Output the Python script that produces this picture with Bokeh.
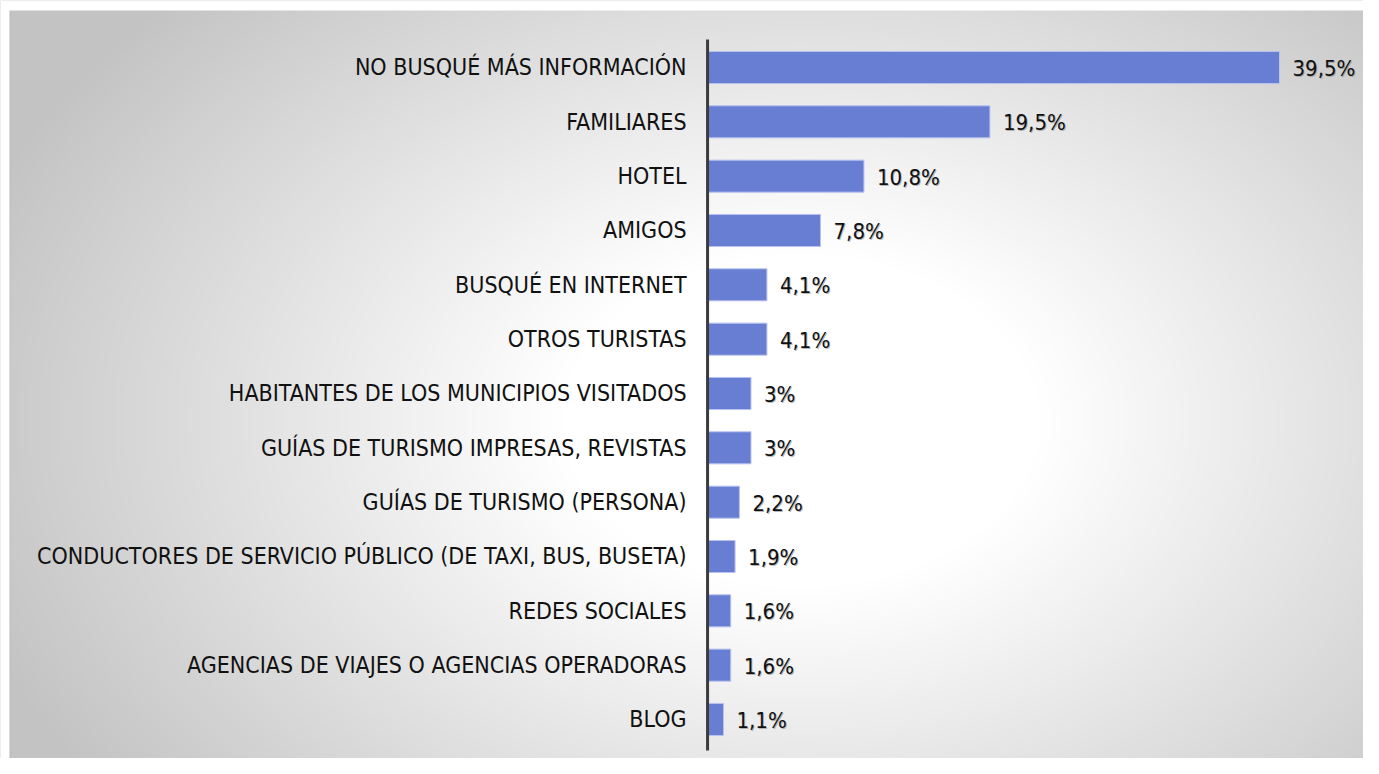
import numpy as np
from bokeh.plotting import figure
from bokeh.models import Range1d
from bokeh.core.properties import value
from bokeh.embed import file_html
from bokeh.resources import INLINE

categories = [
    "NO BUSQUÉ MÁS INFORMACIÓN",
    "FAMILIARES",
    "HOTEL",
    "AMIGOS",
    "BUSQUÉ EN INTERNET",
    "OTROS TURISTAS",
    "HABITANTES DE LOS MUNICIPIOS VISITADOS",
    "GUÍAS DE TURISMO IMPRESAS, REVISTAS",
    "GUÍAS DE TURISMO (PERSONA)",
    "CONDUCTORES DE SERVICIO PÚBLICO (DE TAXI, BUS, BUSETA)",
    "REDES SOCIALES",
    "AGENCIAS DE VIAJES O AGENCIAS OPERADORAS",
    "BLOG",
]
values = [39.5, 19.5, 10.8, 7.8, 4.1, 4.1, 3.0, 3.0, 2.2, 1.9, 1.6, 1.6, 1.1]
value_labels = ["39,5%", "19,5%", "10,8%", "7,8%", "4,1%", "4,1%", "3%", "3%",
                "2,2%", "1,9%", "1,6%", "1,6%", "1,1%"]

W, H = 1363, 758
n = len(categories)
ypos = [n - 1 - i for i in range(n)]  # top category at top

x0, x1 = -48.83, 45.30
y0, y1 = -0.718, 13.233

p = figure(width=W, height=H, output_backend="svg", toolbar_location=None,
           x_range=Range1d(x0, x1), y_range=Range1d(y0, y1),
           min_border=0, min_border_left=0, min_border_right=0,
           min_border_top=0, min_border_bottom=0)
p.axis.visible = False
p.grid.visible = False
p.outline_line_color = None
p.background_fill_color = "#d0d0d0"
p.border_fill_color = "#d0d0d0"

# radial gradient background (slide area starts a few px in)
yy, xx = np.mgrid[0:H, 0:W].astype(float)
cx, cy, rx, ry = 800.0, 420.0, 800.0, 560.0
d = np.sqrt(((xx - cx) / rx) ** 2 + ((yy - cy) / ry) ** 2)
t = np.clip((d - 0.3) / 0.8, 0, 1)
g = (255 - 60 * t)
g[:, 9:10] -= 10
g[:, :9] = 255
g[:10, :] = 255
g = g.astype(np.uint32)
img = (255 << 24) | (g << 16) | (g << 8) | g
img = img[::-1, :]
p.image_rgba(image=[img], x=x0, y=y0, dw=x1 - x0, dh=y1 - y0)

# bars
p.hbar(y=ypos, left=0, right=values, height=0.59,
       fill_color="#687ed2", line_color="#b8c2f0", line_width=1)

# axis line
p.segment(x0=[0], y0=[-0.57], x1=[0], y1=[n - 0.485], line_color="#3c3c3c",
          line_width=3)

# category labels
p.text(x=[0] * n, y=ypos, text=categories, x_offset=-21,
       text_align="right", text_baseline="middle",
       text_font=value("DejaVu Sans Condensed"), text_font_size="23px",
       text_color="#111111")

# value labels with soft shadow
p.text(x=values, y=ypos, text=value_labels, x_offset=14, y_offset=2,
       text_align="left", text_baseline="middle",
       text_font=value("DejaVu Sans Condensed"), text_font_size="22px",
       text_color="#8a8a8a", text_alpha=0.6)
p.text(x=values, y=ypos, text=value_labels, x_offset=13, y_offset=1,
       text_align="left", text_baseline="middle",
       text_font=value("DejaVu Sans Condensed"), text_font_size="22px",
       text_color="#111111")

open("out.html", "w").write(file_html(p, INLINE))
